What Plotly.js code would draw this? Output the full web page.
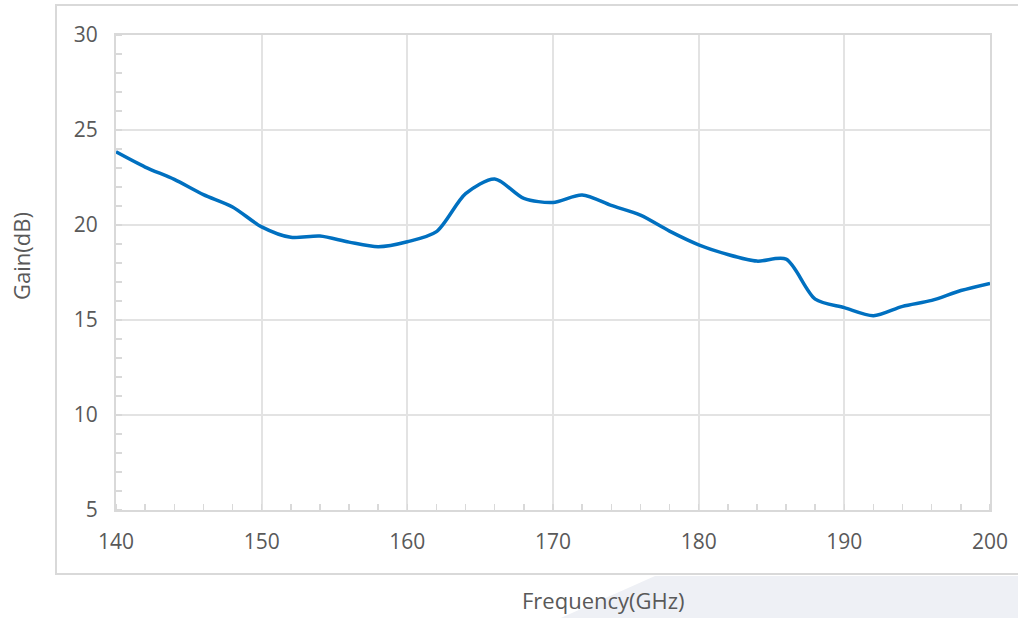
<!DOCTYPE html>
<html>
<head>
<meta charset="utf-8">
<script src="https://cdn.plot.ly/plotly-3.0.1.min.js"></script>
<style>html,body{margin:0;padding:0;background:#fff;}#chart{width:1018px;height:618px;}</style>
</head>
<body>
<div id="chart"></div>
<script>
const frequency = [140,142,144,146,148,150,152,154,156,158,160,162,164,166,168,170,172,174,176,178,180,182,184,186,188,190,192,194,196,198,200];
const gain = [23.85,23.05,22.4,21.6,20.95,19.9,19.35,19.42,19.1,18.86,19.12,19.65,21.65,22.42,21.4,21.19,21.58,21.03,20.52,19.68,18.96,18.45,18.1,18.2,16.1,15.65,15.23,15.72,16.03,16.55,16.93];
const xTicks = [140,150,160,170,180,190,200];
const yTicks = [5,10,15,20,25,30];
const xTitle = 'Frequency(GHz)';
const yTitle = 'Gain(dB)';

const W = 1018, H = 618, L = 116, R = 28, T = 35, B = 108;
const pw = W - L - R, ph = H - T - B;
const px = v => (v - L) / pw;
const py = v => (H - B - v) / ph;

const font = "'Open Sans', sans-serif";
const grey = '#595959';

const trace = {
  x: frequency, y: gain, type: 'scatter', mode: 'lines',
  line: {color: '#0070c0', width: 3.5, shape: 'spline', smoothing: 0.8},
  hoverinfo: 'x+y'
};

const layout = {
  width: W, height: H,
  margin: {l: L, r: R, t: T, b: B},
  paper_bgcolor: '#ffffff', plot_bgcolor: '#ffffff',
  showlegend: false,
  font: {family: font, color: grey, size: 21},
  xaxis: {
    range: [140, 200], tickvals: xTicks, ticks: '',
    showgrid: true, gridcolor: '#e3e3e3', gridwidth: 2,
    showline: true, linecolor: '#d9d9d9', linewidth: 2, mirror: true,
    zeroline: false, ticklabelstandoff: 12,
    tickfont: {family: font, size: 21, color: grey},
    minor: {dtick: 2, ticks: 'inside', ticklen: 6, tickcolor: '#d9d9d9', tickwidth: 1.5, showgrid: false},
    automargin: false
  },
  yaxis: {
    range: [5, 30], tickvals: yTicks, ticks: '',
    showgrid: true, gridcolor: '#e3e3e3', gridwidth: 2,
    showline: true, linecolor: '#d9d9d9', linewidth: 2, mirror: true,
    zeroline: false, ticklabelstandoff: 12,
    tickfont: {family: font, size: 21, color: grey},
    minor: {dtick: 1, ticks: 'inside', ticklen: 6, tickcolor: '#d9d9d9', tickwidth: 1.5, showgrid: false},
    automargin: false
  },
  annotations: [
    {text: xTitle, xref: 'paper', yref: 'paper', x: px(603), y: py(600),
     xanchor: 'center', yanchor: 'middle', showarrow: false,
     font: {family: font, size: 22, color: grey}},
    {text: yTitle, xref: 'paper', yref: 'paper', x: px(21), y: py(256),
     xanchor: 'center', yanchor: 'middle', showarrow: false, textangle: -90,
     font: {family: font, size: 22, color: grey}}
  ],
  shapes: [
    {type: 'path', xref: 'paper', yref: 'paper', layer: 'below',
     path: `M ${px(655)} ${py(576)} L ${px(1025)} ${py(576)} L ${px(1025)} ${py(625)} L ${px(545)} ${py(625)} Z`,
     fillcolor: '#eef0f5', line: {width: 0}},
    {type: 'rect', xref: 'paper', yref: 'paper', layer: 'below',
     x0: px(56), x1: px(1030), y0: py(574), y1: py(5),
     fillcolor: 'rgba(0,0,0,0)', line: {color: '#d9d9d9', width: 2}}
  ]
};

Plotly.newPlot('chart', [trace], layout, {displayModeBar: false, staticPlot: true});
</script>
</body>
</html>
